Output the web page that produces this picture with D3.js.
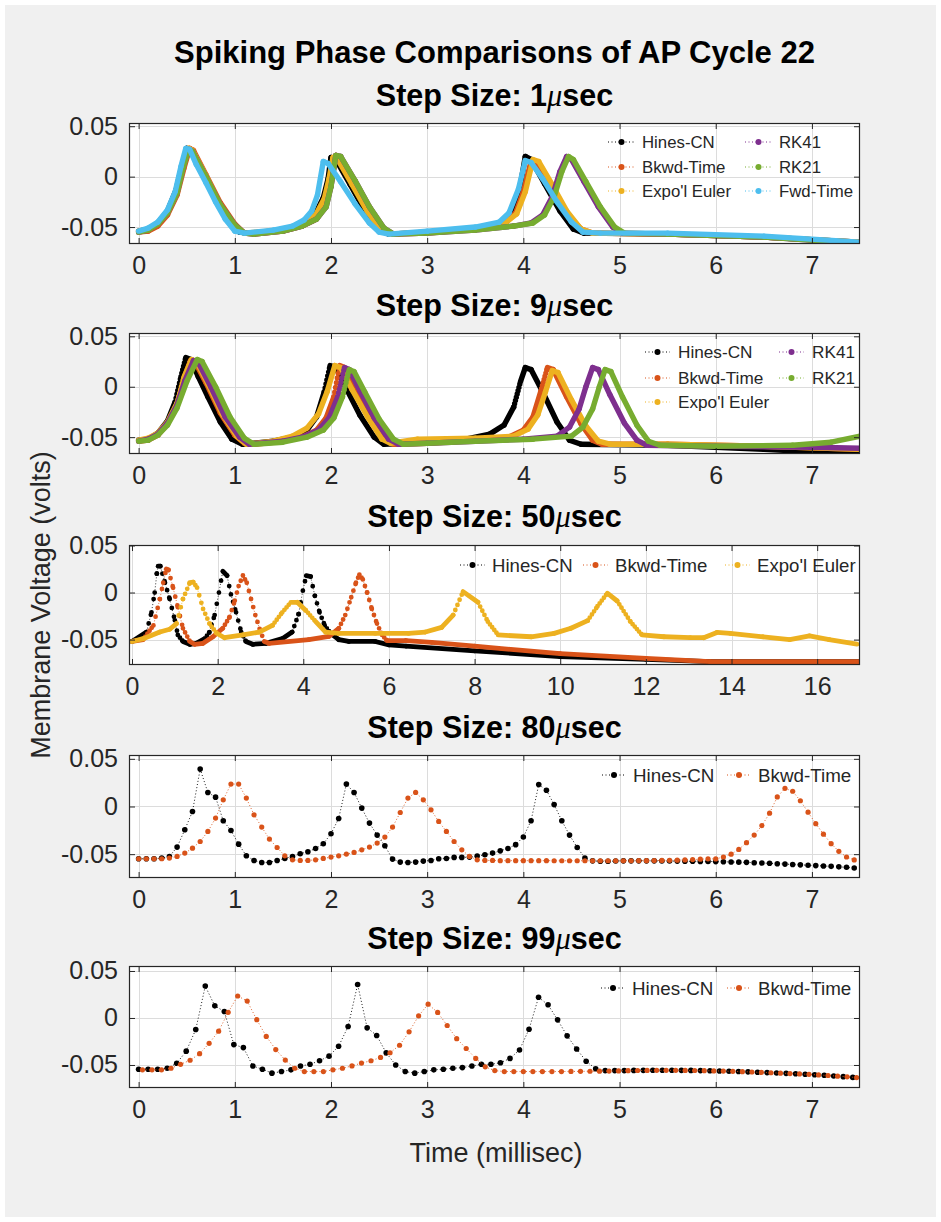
<!DOCTYPE html>
<html><head><meta charset="utf-8">
<script src="https://cdn.jsdelivr.net/npm/d3@7/dist/d3.min.js"></script>
<style>
html,body{margin:0;padding:0;background:#fff;}
svg{display:block;}
text{font-family:"Liberation Sans",Arial,Helvetica,sans-serif;}
</style></head><body>
<svg id="fig" width="941" height="1222"></svg>
<script>
// ---------------- DATA ----------------
const mainTitle = "Spiking Phase Comparisons of AP Cycle 22";
const stepLabels = ["1", "9", "50", "80", "99"];          // step size in μsec
const stepSizesMs = [0.001, 0.009, 0.05, 0.08, 0.099];
const xTicksShort = [0, 1, 2, 3, 4, 5, 6, 7];
const xTicksLong = [0, 2, 4, 6, 8, 10, 12, 14, 16];
const yTicks = [-0.05, 0, 0.05];
const yTickLabels = ["-0.05", "0", "0.05"];
const xLabel = "Time (millisec)";
const yLabel = "Membrane Voltage (volts)";
const methodNames = ["Hines-CN", "Bkwd-Time", "Expo'l Euler", "RK41", "RK21", "Fwd-Time"];

// Step 1 μsec : [time ms, volts]
const s1_hines = [[0,-0.054],[0.1,-0.052],[0.2,-0.046],[0.3,-0.034],[0.39,-0.013],[0.45,0.011],[0.5,0.028],[0.54,0.026],[0.65,0.006],[0.8,-0.022],[0.95,-0.045],[1.05,-0.055],[1.15,-0.056],[1.5,-0.053],[1.7,-0.047],[1.83,-0.038],[1.92,-0.021],[1.97,-0.002],[2.0,0.019],[2.05,0.017],[2.2,-0.008],[2.36,-0.035],[2.5,-0.053],[2.6,-0.057],[3.0,-0.055],[3.5,-0.051],[3.75,-0.046],[3.88,-0.036],[3.96,-0.014],[4.02,0.02],[4.08,0.017],[4.22,-0.007],[4.38,-0.034],[4.52,-0.052],[4.63,-0.056],[5.5,-0.057],[6.5,-0.06],[7.5,-0.065]];
const s1_bkwd = [[0,-0.055],[0.1,-0.054],[0.2,-0.049],[0.3,-0.038],[0.4,-0.018],[0.47,0.008],[0.53,0.028],[0.57,0.026],[0.7,0.002],[0.85,-0.026],[1.0,-0.047],[1.1,-0.056],[1.2,-0.057],[1.5,-0.054],[1.7,-0.049],[1.85,-0.042],[1.95,-0.028],[2.0,-0.008],[2.05,0.021],[2.1,0.019],[2.25,-0.006],[2.4,-0.032],[2.55,-0.052],[2.65,-0.057],[3.0,-0.056],[3.5,-0.052],[3.8,-0.047],[3.92,-0.036],[4.0,-0.015],[4.08,0.015],[4.14,0.013],[4.3,-0.012],[4.45,-0.036],[4.6,-0.052],[4.72,-0.056],[5.5,-0.057],[6.5,-0.06],[7.5,-0.065]];
const s1_expo = [[0,-0.054],[0.1,-0.053],[0.2,-0.047],[0.3,-0.036],[0.4,-0.016],[0.46,0.008],[0.52,0.028],[0.56,0.026],[0.7,0.001],[0.85,-0.028],[1.0,-0.049],[1.1,-0.056],[1.5,-0.053],[1.7,-0.047],[1.84,-0.038],[1.93,-0.022],[1.98,-0.002],[2.02,0.019],[2.07,0.017],[2.22,-0.008],[2.38,-0.035],[2.52,-0.053],[2.62,-0.057],[3.0,-0.055],[3.5,-0.051],[3.8,-0.047],[3.93,-0.037],[4.02,-0.015],[4.1,0.017],[4.16,0.015],[4.3,-0.008],[4.45,-0.034],[4.6,-0.052],[4.72,-0.056],[5.5,-0.057],[6.5,-0.06],[7.5,-0.065]];
const s1_rk41 = [[0,-0.055],[0.1,-0.053],[0.2,-0.047],[0.3,-0.036],[0.4,-0.016],[0.46,0.008],[0.52,0.027],[0.56,0.025],[0.7,0.0],[0.85,-0.028],[1.0,-0.048],[1.1,-0.056],[1.2,-0.057],[1.5,-0.054],[1.7,-0.049],[1.85,-0.042],[1.95,-0.03],[2.0,-0.01],[2.05,0.021],[2.1,0.02],[2.25,-0.004],[2.4,-0.03],[2.55,-0.051],[2.65,-0.057],[3.0,-0.056],[3.5,-0.053],[3.9,-0.049],[4.08,-0.046],[4.2,-0.038],[4.3,-0.02],[4.38,0.005],[4.45,0.02],[4.5,0.017],[4.63,-0.005],[4.78,-0.03],[4.93,-0.05],[5.03,-0.056],[5.5,-0.057],[6.5,-0.06],[7.5,-0.066]];
const s1_rk21 = [[0,-0.055],[0.1,-0.053],[0.2,-0.047],[0.3,-0.036],[0.4,-0.016],[0.46,0.008],[0.52,0.027],[0.56,0.025],[0.7,0.0],[0.85,-0.028],[1.0,-0.048],[1.1,-0.056],[1.2,-0.057],[1.5,-0.054],[1.7,-0.049],[1.85,-0.042],[1.95,-0.03],[2.0,-0.01],[2.05,0.021],[2.1,0.02],[2.25,-0.004],[2.4,-0.03],[2.55,-0.051],[2.65,-0.057],[3.0,-0.056],[3.5,-0.053],[3.9,-0.049],[4.1,-0.046],[4.22,-0.038],[4.32,-0.02],[4.4,0.005],[4.47,0.02],[4.52,0.017],[4.65,-0.005],[4.8,-0.03],[4.95,-0.05],[5.05,-0.056],[5.5,-0.057],[6.5,-0.06],[7.5,-0.066]];
const s1_fwd = [[0,-0.054],[0.1,-0.051],[0.2,-0.045],[0.3,-0.033],[0.38,-0.015],[0.44,0.01],[0.49,0.028],[0.53,0.027],[0.6,0.012],[0.7,-0.006],[0.8,-0.025],[0.9,-0.042],[1.0,-0.054],[1.1,-0.056],[1.4,-0.053],[1.6,-0.049],[1.72,-0.043],[1.8,-0.034],[1.86,-0.018],[1.92,0.015],[1.97,0.013],[2.1,-0.005],[2.25,-0.027],[2.4,-0.046],[2.5,-0.055],[2.6,-0.057],[3.0,-0.054],[3.5,-0.05],[3.75,-0.045],[3.85,-0.036],[3.95,-0.012],[4.02,0.016],[4.08,0.014],[4.2,-0.002],[4.35,-0.025],[4.5,-0.045],[4.62,-0.055],[4.8,-0.056],[5.5,-0.056],[6.5,-0.059],[7.5,-0.065]];

// Step 9 μsec
const s9_hines = [[0,-0.053],[0.1,-0.052],[0.2,-0.046],[0.3,-0.034],[0.38,-0.015],[0.44,0.01],[0.49,0.029],[0.54,0.027],[0.62,0.01],[0.72,-0.01],[0.85,-0.035],[0.97,-0.052],[1.08,-0.057],[1.4,-0.054],[1.6,-0.05],[1.75,-0.043],[1.85,-0.03],[1.93,-0.005],[1.99,0.021],[2.05,0.019],[2.15,0.0],[2.3,-0.028],[2.45,-0.05],[2.55,-0.057],[3.0,-0.055],[3.4,-0.052],[3.65,-0.047],[3.8,-0.038],[3.9,-0.02],[3.97,0.005],[4.02,0.019],[4.08,0.017],[4.2,-0.005],[4.35,-0.035],[4.48,-0.053],[4.6,-0.057],[5.5,-0.058],[6.5,-0.062],[7.5,-0.067]];
const s9_bkwd = [[0,-0.054],[0.1,-0.053],[0.2,-0.048],[0.3,-0.037],[0.4,-0.017],[0.47,0.008],[0.54,0.026],[0.59,0.024],[0.7,0.004],[0.85,-0.026],[1.0,-0.048],[1.1,-0.056],[1.2,-0.057],[1.5,-0.054],[1.7,-0.05],[1.85,-0.043],[1.95,-0.031],[2.03,-0.01],[2.09,0.021],[2.14,0.019],[2.25,-0.002],[2.4,-0.03],[2.55,-0.052],[2.65,-0.057],[3.0,-0.056],[3.5,-0.053],[3.85,-0.05],[4.0,-0.043],[4.1,-0.03],[4.18,-0.005],[4.25,0.019],[4.31,0.017],[4.45,-0.01],[4.6,-0.037],[4.72,-0.053],[4.82,-0.057],[5.5,-0.057],[6.5,-0.059],[7.5,-0.062]];
const s9_expo = [[0,-0.053],[0.1,-0.051],[0.2,-0.046],[0.3,-0.035],[0.4,-0.016],[0.47,0.009],[0.55,0.027],[0.6,0.025],[0.72,0.003],[0.87,-0.027],[1.02,-0.049],[1.12,-0.057],[1.4,-0.054],[1.6,-0.049],[1.75,-0.041],[1.87,-0.027],[1.96,-0.005],[2.04,0.021],[2.1,0.019],[2.22,-0.003],[2.38,-0.03],[2.53,-0.052],[2.62,-0.056],[2.9,-0.052],[3.5,-0.051],[3.9,-0.049],[4.05,-0.042],[4.15,-0.028],[4.23,-0.005],[4.3,0.016],[4.36,0.014],[4.5,-0.013],[4.65,-0.039],[4.78,-0.054],[4.9,-0.057],[5.5,-0.057],[6.5,-0.059],[7.5,-0.062]];
const s9_rk41 = [[0,-0.054],[0.1,-0.052],[0.2,-0.047],[0.3,-0.036],[0.4,-0.018],[0.48,0.006],[0.57,0.026],[0.62,0.024],[0.75,0.0],[0.9,-0.03],[1.05,-0.05],[1.15,-0.057],[1.5,-0.054],[1.7,-0.05],[1.87,-0.043],[1.98,-0.031],[2.07,-0.01],[2.14,0.019],[2.19,0.017],[2.3,-0.004],[2.45,-0.031],[2.6,-0.052],[2.7,-0.057],[3.0,-0.056],[3.5,-0.054],[4.0,-0.052],[4.35,-0.049],[4.48,-0.04],[4.58,-0.022],[4.65,0.0],[4.72,0.019],[4.78,0.017],[4.9,-0.008],[5.05,-0.036],[5.18,-0.053],[5.28,-0.058],[6.0,-0.059],[7.0,-0.06],[7.5,-0.061]];
const s9_rk21 = [[0,-0.054],[0.1,-0.053],[0.2,-0.048],[0.3,-0.038],[0.4,-0.021],[0.5,0.005],[0.61,0.027],[0.66,0.025],[0.8,0.0],[0.95,-0.03],[1.1,-0.051],[1.2,-0.057],[1.5,-0.055],[1.75,-0.05],[1.92,-0.043],[2.03,-0.031],[2.12,-0.01],[2.19,0.017],[2.24,0.015],[2.35,-0.005],[2.5,-0.032],[2.65,-0.052],[2.75,-0.057],[3.0,-0.056],[3.5,-0.054],[4.1,-0.052],[4.5,-0.049],[4.62,-0.04],[4.72,-0.022],[4.79,0.0],[4.85,0.017],[4.91,0.015],[5.03,-0.01],[5.18,-0.038],[5.3,-0.054],[5.42,-0.058],[6.0,-0.059],[6.8,-0.058],[7.2,-0.055],[7.5,-0.049]];

// Step 50 μsec
const s50_hines = [[0,-0.052],[0.34,-0.042],[0.455,-0.021],[0.53,0.0],[0.58,0.02],[0.61,0.028],[0.66,0.028],[0.77,0.0104],[0.88,-0.007],[1.0,-0.0295],[1.07,-0.045],[1.19,-0.052],[1.35,-0.055],[1.5,-0.054],[1.7,-0.049],[1.81,-0.042],[1.93,-0.024],[2.03,0.0],[2.12,0.0226],[2.22,0.018],[2.31,-0.002],[2.43,-0.021],[2.55,-0.042],[2.66,-0.052],[2.82,-0.055],[3.13,-0.054],[3.51,-0.049],[3.74,-0.042],[3.89,-0.023],[3.99,0.002],[4.07,0.018],[4.17,0.017],[4.27,-0.0035],[4.38,-0.021],[4.5,-0.035],[4.63,-0.043],[4.83,-0.05],[5.06,-0.052],[5.68,-0.052],[6.0,-0.0556],[6.4,-0.057],[8.0,-0.062],[10.0,-0.068],[12.0,-0.071],[13.5,-0.0735],[17.0,-0.0735]];
const s50_bkwd = [[0,-0.052],[0.26,-0.05],[0.5,-0.035],[0.65,-0.007],[0.73,0.0104],[0.8,0.025],[0.85,0.024],[0.96,0.005],[1.07,-0.0156],[1.19,-0.038],[1.35,-0.052],[1.46,-0.055],[1.66,-0.054],[1.89,-0.047],[2.12,-0.038],[2.28,-0.026],[2.4,-0.0087],[2.49,0.0069],[2.59,0.0181],[2.68,0.0104],[2.78,-0.0069],[2.88,-0.024],[2.99,-0.04],[3.09,-0.052],[3.2,-0.054],[4.13,-0.05],[4.6,-0.0465],[4.83,-0.038],[4.98,-0.024],[5.12,-0.005],[5.23,0.0104],[5.31,0.019],[5.39,0.0139],[5.49,0.0],[5.6,-0.0174],[5.72,-0.033],[5.84,-0.045],[5.95,-0.051],[6.4,-0.051],[7.0,-0.053],[8.0,-0.057],[10.0,-0.065],[12.0,-0.07],[13.5,-0.0735],[17.0,-0.0735]];
const s50_expo = [[0,-0.052],[0.26,-0.049],[0.65,-0.042],[0.88,-0.039],[1.04,-0.033],[1.19,-0.0069],[1.35,0.0104],[1.43,0.011],[1.52,0.0052],[1.66,-0.0174],[1.81,-0.033],[1.97,-0.043],[2.16,-0.048],[2.59,-0.045],[2.97,-0.042],[3.28,-0.035],[3.51,-0.021],[3.71,-0.0104],[3.86,-0.0104],[4.06,-0.019],[4.29,-0.031],[4.52,-0.042],[4.83,-0.0434],[5.68,-0.0434],[6.46,-0.0434],[6.85,-0.042],[7.23,-0.037],[7.5,-0.024],[7.73,0.001],[8.08,-0.0104],[8.31,-0.031],[8.55,-0.0451],[9.32,-0.047],[9.86,-0.0434],[10.25,-0.038],[10.64,-0.0299],[10.87,-0.0146],[11.1,-0.0007],[11.33,-0.009],[11.64,-0.031],[11.91,-0.0451],[12.42,-0.047],[13.04,-0.048],[13.35,-0.048],[13.66,-0.0424],[13.97,-0.0434],[14.74,-0.047],[15.36,-0.05],[15.82,-0.046],[16.28,-0.05],[16.93,-0.0549]];

// Step 80 μsec : one voltage per time step (t = i * 0.08 ms)
const s80_hines = [-0.0548,-0.0548,-0.0548,-0.0541,-0.0524,-0.0426,-0.0244,-0.0052,0.0392,0.0147,
 0.0098,-0.0150,-0.0252,-0.0395,-0.0517,-0.0566,-0.0587,-0.0587,-0.0566,-0.0545,
 -0.0524,-0.0496,-0.0475,-0.0440,-0.0391,-0.0286,-0.0126,0.0235,0.0147,-0.0017,
 -0.0174,-0.0300,-0.0412,-0.0552,-0.0583,-0.0587,-0.0583,-0.0573,-0.0566,-0.0548,
 -0.0545,-0.0534,-0.0534,-0.0531,-0.0520,-0.0506,-0.0489,-0.0465,-0.0440,-0.0400,
 -0.0320,-0.0150,0.0230,0.0170,0.0020,-0.0150,-0.0300,-0.0430,-0.0540,-0.0570,
 -0.0575,-0.0575,-0.0572,-0.0570,-0.0570,-0.0570,-0.0570,-0.0570,-0.0572,-0.0572,
 -0.0573,-0.0574,-0.0575,-0.0576,-0.0577,-0.0578,-0.0580,-0.0582,-0.0584,-0.0586,
 -0.0590,-0.0593,-0.0596,-0.0600,-0.0604,-0.0608,-0.0612,-0.0616,-0.0620,-0.0624,
 -0.0628,-0.0633,-0.0638,-0.0645];
const s80_bkwd = [-0.0548,-0.0548,-0.0548,-0.0548,-0.0541,-0.0524,-0.0489,-0.0437,-0.0367,-0.0262,
 -0.0122,0.0070,0.0235,0.0235,0.0088,-0.0087,-0.0216,-0.0342,-0.0430,-0.0517,
 -0.0559,-0.0566,-0.0566,-0.0559,-0.0545,-0.0531,-0.0517,-0.0499,-0.0482,-0.0454,
 -0.0426,-0.0384,-0.0321,-0.0216,-0.0063,0.0088,0.0147,0.0070,-0.0035,-0.0157,
 -0.0262,-0.0367,-0.0454,-0.0524,-0.0559,-0.0566,-0.0566,-0.0568,-0.0568,-0.0568,
 -0.0568,-0.0568,-0.0568,-0.0568,-0.0569,-0.0569,-0.0569,-0.0569,-0.0569,-0.0569,
 -0.0569,-0.0569,-0.0569,-0.0569,-0.0569,-0.0568,-0.0568,-0.0567,-0.0566,-0.0565,
 -0.0563,-0.0560,-0.0557,-0.0553,-0.0549,-0.0550,-0.0530,-0.0500,-0.0450,-0.0380,
 -0.0300,-0.0200,-0.0070,0.0100,0.0190,0.0160,0.0060,-0.0060,-0.0180,-0.0290,
 -0.0390,-0.0470,-0.0530,-0.0560];

// Step 99 μsec : t = start + i * 0.099 ms
const s99_hinesStart = 0;
const s99_hines = [-0.0545,-0.0545,-0.0545,-0.0535,-0.0482,-0.0353,-0.0123,0.0339,0.0129,0.0069,
 -0.0283,-0.0315,-0.0511,-0.0545,-0.0587,-0.0570,-0.0552,-0.0511,-0.0493,-0.0455,
 -0.0406,-0.0301,-0.0091,0.0356,-0.0105,-0.0186,-0.0371,-0.0500,-0.0570,-0.0587,
 -0.0570,-0.0552,-0.0545,-0.0535,-0.0528,-0.0511,-0.0493,-0.0493,-0.0476,-0.0430,
 -0.0340,-0.0120,0.0220,0.0140,-0.0020,-0.0190,-0.0330,-0.0460,-0.0540,-0.0560,
 -0.0560,-0.0560,-0.0558,-0.0557,-0.0556,-0.0556,-0.0556,-0.0557,-0.0558,-0.0560,
 -0.0562,-0.0564,-0.0567,-0.0570,-0.0573,-0.0577,-0.0581,-0.0585,-0.0589,-0.0593,
 -0.0598,-0.0604,-0.0610,-0.0617,-0.0624,-0.0632];
const s99_bkwdStart = 0.04;
const s99_bkwd = [-0.0552,-0.0552,-0.0552,-0.0535,-0.0493,-0.0450,-0.0380,-0.0270,-0.0140,0.0060,
 0.0234,0.0180,-0.0018,-0.0196,-0.0336,-0.0448,-0.0535,-0.0570,-0.0570,-0.0570,
 -0.0552,-0.0535,-0.0510,-0.0480,-0.0455,-0.0420,-0.0370,-0.0290,-0.0147,0.0022,
 0.0147,0.0059,-0.0080,-0.0220,-0.0325,-0.0430,-0.0520,-0.0560,-0.0570,-0.0570,
 -0.0570,-0.0570,-0.0570,-0.0570,-0.0570,-0.0569,-0.0568,-0.0567,-0.0566,-0.0565,
 -0.0563,-0.0561,-0.0559,-0.0558,-0.0557,-0.0557,-0.0557,-0.0558,-0.0559,-0.0561,
 -0.0563,-0.0565,-0.0568,-0.0571,-0.0575,-0.0579,-0.0583,-0.0587,-0.0591,-0.0595,
 -0.0600,-0.0606,-0.0612,-0.0619,-0.0626,-0.0634];

// ---------------- LAYOUT / STYLE ----------------
const AX_L = 129, AX_R = 860;
const COL = {hines:"#000000", bkwd:"#D95319", expo:"#EDB120", rk41:"#7E2F8E", rk21:"#77AC30", fwd:"#4DBEEE"};
const INK = "#262626";
const FONT = '"Liberation Sans", Arial, Helvetica, sans-serif';

const toPairs = (vals, start, dt) => vals.map((v, i) => [start + i * dt, v]);

const panels = [
  { top:123, bottom:244, xDomain:[-0.1,7.5], yDomain:[-0.0668,0.0532], xTicks:xTicksShort, kind:"dense", width:5.4,
    series:[["hines",s1_hines],["bkwd",s1_bkwd],["expo",s1_expo],["rk41",s1_rk41],["rk21",s1_rk21],["fwd",s1_fwd]],
    legend:{fs:16.8, items:[["hines",608,142],["bkwd",608,167],["expo",608,191],["rk41",745,142],["rk21",745,167],["fwd",745,191]], sample:27, gap:7} },
  { top:333, bottom:454, xDomain:[-0.1,7.5], yDomain:[-0.0667,0.0533], xTicks:xTicksShort, kind:"dense", width:5.4,
    series:[["hines",s9_hines],["bkwd",s9_bkwd],["expo",s9_expo],["rk41",s9_rk41],["rk21",s9_rk21]],
    legend:{fs:17.2, items:[["hines",645,352],["bkwd",645,378],["expo",645,402],["rk41",779,352],["rk21",779,378]], sample:25, gap:8} },
  { top:545, bottom:665, xDomain:[-0.07,17], yDomain:[-0.077,0.0505], xTicks:xTicksLong, kind:"dense", width:4.8,
    series:[["hines",s50_hines],["bkwd",s50_bkwd],["expo",s50_expo]],
    legend:{fs:18.6, items:[["hines",460,565],["bkwd",583,565],["expo",725,565]], sample:25, gap:7} },
  { top:755, bottom:878, xDomain:[-0.1,7.5], yDomain:[-0.075,0.054], xTicks:xTicksShort, kind:"sparse",
    series:[["hines",toPairs(s80_hines,0,stepSizesMs[3])],["bkwd",toPairs(s80_bkwd,0,stepSizesMs[3])]],
    legend:{fs:18.8, items:[["hines",602,775],["bkwd",727,775]], sample:24, gap:7} },
  { top:966, bottom:1088, xDomain:[-0.1,7.5], yDomain:[-0.0745,0.0553], xTicks:xTicksShort, kind:"sparse",
    series:[["hines",toPairs(s99_hines,s99_hinesStart,stepSizesMs[4])],["bkwd",toPairs(s99_bkwd,s99_bkwdStart,stepSizesMs[4])]],
    legend:{fs:18.8, items:[["hines",601,988],["bkwd",727,988]], sample:24, gap:7} }
];
const keyIndex = {hines:0,bkwd:1,expo:2,rk41:3,rk21:4,fwd:5};

// ---------------- DRAW ----------------
const svg = d3.select("#fig");
svg.append("rect").attr("width",941).attr("height",1222).attr("fill","#ffffff");
svg.append("rect").attr("x",5).attr("y",5).attr("width",931).attr("height",1212).attr("fill","#f0f0f0");

// titles
svg.append("text").attr("x",494.5).attr("y",63).attr("text-anchor","middle")
  .attr("font-size",31).attr("font-weight","bold").attr("fill","#000").text(mainTitle);

function stepTitle(yBase, label){
  const t = svg.append("text").attr("x",494.5).attr("y",yBase).attr("text-anchor","middle")
    .attr("font-size",30.5).attr("font-weight","bold").attr("fill","#000");
  t.append("tspan").text("Step Size: " + label);
  t.append("tspan").attr("font-style","italic").attr("font-weight","normal")
    .attr("font-family",'"Liberation Serif","DejaVu Serif",serif').text("\u03BC");
  t.append("tspan").text("sec");
}
const titleBaselines = [106, 316, 527, 738, 949];

panels.forEach((P, pi) => {
  stepTitle(titleBaselines[pi], stepLabels[pi]);
  const x = d3.scaleLinear().domain(P.xDomain).range([AX_L, AX_R]);
  const y = d3.scaleLinear().domain(P.yDomain).range([P.bottom, P.top]);
  const g = svg.append("g");
  const W = AX_R - AX_L, H = P.bottom - P.top;
  g.append("rect").attr("x",AX_L).attr("y",P.top).attr("width",W).attr("height",H).attr("fill","#fff");

  // grid
  const grid = g.append("g").attr("stroke","#dcdcdc").attr("stroke-width",1);
  P.xTicks.forEach(t => grid.append("line").attr("x1",Math.round(x(t))+0.5).attr("x2",Math.round(x(t))+0.5).attr("y1",P.top).attr("y2",P.bottom));
  yTicks.forEach(t => grid.append("line").attr("y1",Math.round(y(t))+0.5).attr("y2",Math.round(y(t))+0.5).attr("x1",AX_L).attr("x2",AX_R));

  // clip
  const cid = "clip" + pi;
  svg.append("clipPath").attr("id",cid).append("rect").attr("x",AX_L).attr("y",P.top).attr("width",W).attr("height",H);
  const plot = g.append("g").attr("clip-path",`url(#${cid})`);
  const dt = stepSizesMs[pi];

  P.series.forEach(([key, pts]) => {
    const color = COL[key];
    if (P.kind === "dense") {
      plot.append("path").attr("d", d3.line().x(d=>x(d[0])).y(d=>y(d[1]))(pts))
        .attr("fill","none").attr("stroke",color).attr("stroke-width",0.8).attr("stroke-dasharray","1 2");
      // marker trail: marker spacing follows the simulation step size
      for (let i = 0; i < pts.length - 1; i++) {
        const x1 = x(pts[i][0]), y1 = y(pts[i][1]), x2 = x(pts[i+1][0]), y2 = y(pts[i+1][1]);
        const len = Math.hypot(x2-x1, y2-y1);
        const n = Math.max((pts[i+1][0]-pts[i][0]) / dt, 1);
        const sp = len / n;
        const ln = plot.append("line").attr("x1",x1).attr("y1",y1).attr("x2",x2).attr("y2",y2)
          .attr("stroke",color).attr("stroke-width",P.width).attr("stroke-linecap","round");
        if (sp > 3.2) ln.attr("stroke-dasharray", `0 ${sp.toFixed(2)}`);
      }
    } else {
      plot.append("path").attr("d", d3.line().x(d=>x(d[0])).y(d=>y(d[1]))(pts))
        .attr("fill","none").attr("stroke",color).attr("stroke-width",0.9).attr("stroke-dasharray","1 2.2");
      plot.selectAll(null).data(pts).enter().append("circle")
        .attr("cx",d=>x(d[0])).attr("cy",d=>y(d[1])).attr("r", key==="hines" ? 2.8 : 2.6).attr("fill",color);
    }
  });

  // axes
  const styleAxis = sel => {
    sel.select(".domain").remove();
    sel.selectAll(".tick line").attr("stroke",INK).attr("stroke-width",1);
    sel.selectAll(".tick text").attr("fill",INK).attr("font-size",25).attr("font-family",FONT);
  };
  g.append("g").attr("transform",`translate(0,${P.bottom})`)
    .call(d3.axisBottom(x).tickValues(P.xTicks).tickFormat(d3.format("d")).tickSizeInner(-6).tickSizeOuter(0).tickPadding(12))
    .call(styleAxis);
  g.append("g").attr("transform",`translate(0,${P.top})`)
    .call(d3.axisTop(x).tickValues(P.xTicks).tickFormat("").tickSizeInner(-6).tickSizeOuter(0))
    .call(styleAxis);
  g.append("g").attr("transform",`translate(${AX_L},0)`)
    .call(d3.axisLeft(y).tickValues(yTicks).tickFormat((d,i)=>yTickLabels[i]).tickSizeInner(-6).tickSizeOuter(0).tickPadding(11))
    .call(styleAxis);
  g.append("g").attr("transform",`translate(${AX_R},0)`)
    .call(d3.axisRight(y).tickValues(yTicks).tickFormat("").tickSizeInner(-6).tickSizeOuter(0))
    .call(styleAxis);
  g.append("rect").attr("x",AX_L+0.5).attr("y",P.top+0.5).attr("width",W-1).attr("height",H-1)
    .attr("fill","none").attr("stroke",INK).attr("stroke-width",1.2);

  // legend (no box)
  const L = P.legend;
  const lg = g.append("g");
  L.items.forEach(([key, lx, ly]) => {
    const color = COL[key];
    lg.append("line").attr("x1",lx).attr("x2",lx+L.sample).attr("y1",ly).attr("y2",ly)
      .attr("stroke",color).attr("stroke-width",1).attr("stroke-dasharray","1 2.5");
    lg.append("circle").attr("cx",lx+L.sample/2).attr("cy",ly).attr("r",3).attr("fill",color);
    lg.append("text").attr("x",lx+L.sample+L.gap).attr("y",ly+L.fs*0.36).attr("font-size",L.fs)
      .attr("fill",INK).text(methodNames[keyIndex[key]]);
  });
});

// axis labels
svg.append("text").attr("x",496).attr("y",1162).attr("text-anchor","middle")
  .attr("font-size",27).attr("fill",INK).text(xLabel);
svg.append("text").attr("transform","translate(50,605) rotate(-90)").attr("text-anchor","middle")
  .attr("font-size",27).attr("fill",INK).text(yLabel);
</script>
</body></html>
